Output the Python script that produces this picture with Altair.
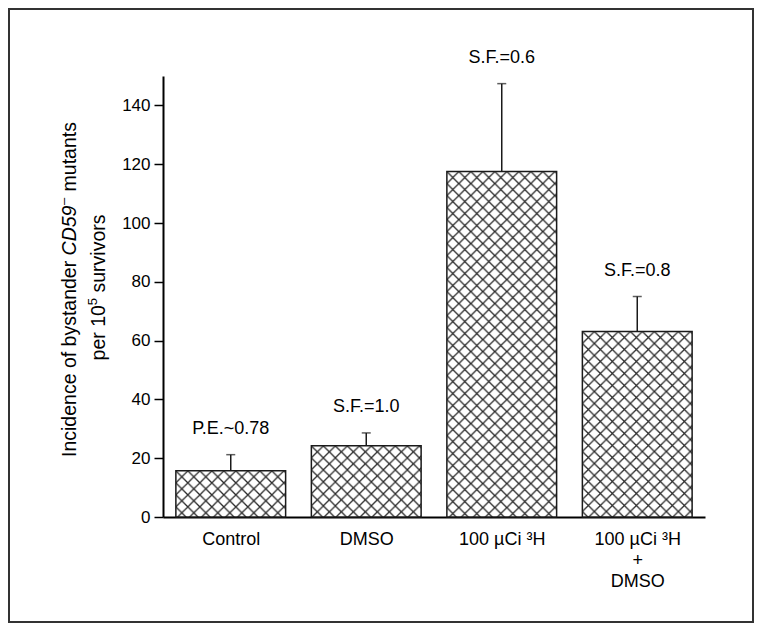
import altair as alt
import pandas as pd
from urllib.parse import quote

# ---- data ----
groups = ["Control", "DMSO", "100 µCi ³H", "100 µCi ³H|+|DMSO"]
idx = [0, 1, 2, 3]
values = [15.7, 24.2, 117.5, 63.1]
err_top = [21.2, 28.6, 147.4, 75.0]
notes = ["P.E.~0.78", "S.F.=1.0", "S.F.=0.6", "S.F.=0.8"]
half_width = 0.405

df = pd.DataFrame({
    "idx": idx,
    "group": groups,
    "value": values,
    "err": err_top,
    "note": notes,
})
df["lo"] = df["idx"] - half_width
df["hi"] = df["idx"] + half_width
df["zero"] = 0

FONT = "Liberation Sans"
INK = "#1a1a1a"

hatch_svg = (
    "<svg xmlns='http://www.w3.org/2000/svg'>"
    "<defs><pattern id='h' width='12' height='12' patternUnits='userSpaceOnUse'>"
    "<path d='M-3,-3L15,15M15,-3L-3,15' stroke='#2a2a2a' stroke-width='1.3' fill='none'/>"
    "</pattern></defs>"
    "<rect width='100%' height='100%' fill='white'/>"
    "<rect width='100%' height='100%' fill='url(#h)'/>"
    "</svg>"
)
hatch_uri = "data:image/svg+xml;charset=utf-8," + quote(hatch_svg)

label_list = "[" + ",".join("'" + g + "'" for g in groups) + "]"

x_scale = alt.Scale(domain=[-0.5, 3.5], nice=False, zero=False)
y_scale = alt.Scale(domain=[0, 150], nice=False)

x_axis = alt.Axis(
    values=idx,
    labelExpr="split(" + label_list + "[datum.value], '|')",
    ticks=False,
    tickSize=0,
    labelPadding=13,
    labelFontSize=18,
    labelFont=FONT,
    labelColor="black",
    labelLineHeight=21,
    labelOverlap=False,
    labelFlush=False,
    domainColor="black",
    domainWidth=2,
    grid=False,
    title=None,
)

y_axis = alt.Axis(
    values=list(range(0, 151, 10)),
    labelExpr="datum.value % 20 === 0 ? datum.label : ''",
    tickSize={"condition": {"test": "datum.value % 20 === 0", "value": 9}, "value": 5},
    tickColor="black",
    tickWidth=1.5,
    labelPadding=4,
    labelFontSize=17,
    labelFont=FONT,
    labelColor="black",
    labelFlush=False,
    labelOverlap=False,
    domainColor="black",
    domainWidth=2,
    grid=False,
    title=None,
)

base = alt.Chart(df)

hatch = base.mark_image(aspect=False).encode(
    x=alt.X("lo:Q", scale=x_scale, axis=x_axis),
    x2="hi:Q",
    y=alt.Y("value:Q", scale=y_scale, axis=y_axis),
    y2="zero:Q",
    url=alt.value(hatch_uri),
)

outline = base.mark_bar(fillOpacity=0, stroke=INK, strokeWidth=1.5).encode(
    x=alt.X("lo:Q", scale=x_scale),
    x2="hi:Q",
    y=alt.Y("value:Q", scale=y_scale),
    y2="zero:Q",
)

stem = base.mark_rule(color=INK, strokeWidth=1.5).encode(
    x=alt.X("idx:Q", scale=x_scale),
    y=alt.Y("value:Q", scale=y_scale),
    y2="err:Q",
)

cap = base.mark_tick(orient="horizontal", size=9, thickness=1.5, color=INK).encode(
    x=alt.X("idx:Q", scale=x_scale),
    y=alt.Y("err:Q", scale=y_scale),
)

ann = base.mark_text(dy=-26, fontSize=18, font=FONT, color="black", baseline="middle").encode(
    x=alt.X("idx:Q", scale=x_scale),
    y=alt.Y("err:Q", scale=y_scale),
    text="note:N",
)

one = pd.DataFrame({"k": [0]})

frame = alt.Chart(one).mark_rect(
    fillOpacity=0, stroke="#333333", strokeWidth=2
).encode(
    x=alt.value(-154), x2=alt.value(590), y=alt.value(-67), y2=alt.value(546)
)

# ---- rotated y-axis title, built from pieces (italic gene name, superscripts) ----
TS = 19.5
SUP = 13
SPACE = 278


def piece(text, x, y, size=TS, style="normal"):
    return alt.Chart(one).mark_text(
        angle=270, align="left", baseline="alphabetic",
        font=FONT, fontSize=size, fontStyle=style, color="black",
    ).encode(x=alt.value(x), y=alt.value(y), text=alt.value(text))


def w(units, size=TS):
    return units * size / 1000.0


# line 1: "Incidence of bystander CD59⁻ mutants"
l1x = -87
y1 = 381
y2 = y1 - w(10061 + SPACE)
y3 = y2 - w(2556) - 0.5
y4 = y3 - w(556, SUP) - 1 - w(SPACE)
t1 = piece("Incidence of bystander", l1x, y1)
t2 = piece("CD59", l1x, y2, style="italic")
t3 = piece("–", l1x - 8, y3, size=SUP)
t4 = piece("mutants", l1x, y4)

# line 2: "per 10⁵ survivors"
l2x = -58
total2 = w(2835) + w(556, SUP) + w(4278)
z1 = 211.5 + total2 / 2
z2 = z1 - w(2835)
z3 = z2 - w(556, SUP) - w(SPACE)
u1 = piece("per 10", l2x, z1)
u2 = piece("5", l2x - 8, z2, size=SUP)
u3 = piece("survivors", l2x, z3)

chart = alt.layer(
    hatch, outline, stem, cap, ann, frame, t1, t2, t3, t4, u1, u2, u3
).properties(
    width=542,
    height=441,
    padding={"left": 155, "top": 68, "right": 51, "bottom": 108},
    autosize=alt.AutoSizeParams(type="none"),
).configure(background="white").configure_view(stroke=None)

chart.save("out.html", embed_options={"renderer": "svg", "actions": False})
